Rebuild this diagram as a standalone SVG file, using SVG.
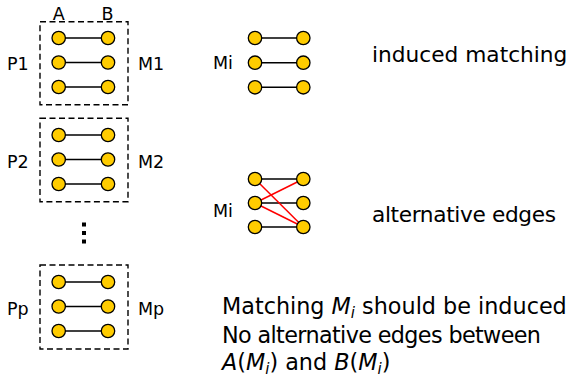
<svg xmlns="http://www.w3.org/2000/svg" width="571" height="383" viewBox="0 0 571 383">
<style>
.box{fill:none;stroke:#000;stroke-width:1.4;stroke-dasharray:6,3.5}
.n{fill:#ffcc00;stroke:#000;stroke-width:1.3}
.e{stroke:#000;stroke-width:1.5}
.r{stroke:#ff0000;stroke-width:1.5}
.lbl{font-family:"DejaVu Sans",sans-serif;font-size:17.5px;fill:#000}
.txt{font-family:"DejaVu Sans",sans-serif;font-size:21.7px;fill:#000}
.txb{font-family:"DejaVu Sans",sans-serif;font-size:22.3px;fill:#000}
.it{font-style:italic}
</style>
<rect width="571" height="383" fill="#fff"/>
<g id="labels">
<text class="lbl" x="58.7" y="20" text-anchor="middle">A</text>
<text class="lbl" x="107.5" y="20" text-anchor="middle">B</text>
<text class="lbl" x="7" y="69.5">P1</text>
<text class="lbl" x="138" y="69.5">M1</text>
<text class="lbl" x="7" y="168">P2</text>
<text class="lbl" x="138" y="168">M2</text>
<text class="lbl" x="7" y="314.5">Pp</text>
<text class="lbl" x="138" y="314.5">Mp</text>
<text class="lbl" x="213" y="69">Mi</text>
<text class="lbl" x="213" y="216.5">Mi</text>
<text class="txt" x="372" y="61.7">induced matching</text>
<text class="txt" x="372" y="221.7" textLength="184" lengthAdjust="spacing">alternative edges</text>
<text class="txb" x="222" y="314">Matching <tspan class="it">M</tspan><tspan class="it" font-size="15" dy="4">i</tspan><tspan dy="-4"> should be induced</tspan></text>
<text class="txb" x="222" y="342.7" textLength="319" lengthAdjust="spacing">No alternative edges between</text>
<text class="txb" x="222" y="370"><tspan class="it">A</tspan>(<tspan class="it">M</tspan><tspan class="it" font-size="15" dy="4">i</tspan><tspan dy="-4">) and </tspan><tspan class="it">B</tspan>(<tspan class="it">M</tspan><tspan class="it" font-size="15" dy="4">i</tspan><tspan dy="-4">)</tspan></text>
</g>
<g id="boxes">
<rect class="box" x="40" y="21.7" width="88" height="83"/>
<rect class="box" x="40" y="118.3" width="88" height="83.4"/>
<rect class="box" x="40" y="265" width="88" height="84"/>
</g>
<g id="vdots" fill="#000">
<rect x="82" y="222.5" width="4" height="4"/>
<rect x="82" y="231" width="4" height="4"/>
<rect x="82" y="239.5" width="4" height="4"/>
</g>
<g id="connectors">
<line class="e" x1="58.7" y1="38" x2="108" y2="38"/>
<line class="e" x1="58.7" y1="62.5" x2="108" y2="62.5"/>
<line class="e" x1="58.7" y1="87" x2="108" y2="87"/>
<line class="e" x1="58.7" y1="135" x2="108" y2="135"/>
<line class="e" x1="58.7" y1="159.5" x2="108" y2="159.5"/>
<line class="e" x1="58.7" y1="184" x2="108" y2="184"/>
<line class="e" x1="58.7" y1="282" x2="108" y2="282"/>
<line class="e" x1="58.7" y1="306.5" x2="108" y2="306.5"/>
<line class="e" x1="58.7" y1="331" x2="108" y2="331"/>
<line class="e" x1="255" y1="38" x2="303.3" y2="38"/>
<line class="e" x1="255" y1="62.7" x2="303.3" y2="62.7"/>
<line class="e" x1="255" y1="87.3" x2="303.3" y2="87.3"/>
<line class="e" x1="255" y1="179" x2="303.3" y2="179"/>
<line class="e" x1="255" y1="203" x2="303.3" y2="203" stroke-width="2"/>
<line class="e" x1="255" y1="227" x2="303.3" y2="227"/>
<line class="r" x1="255" y1="179" x2="303.3" y2="227"/>
<line class="r" x1="255" y1="203" x2="303.3" y2="179"/>
<line class="r" x1="255" y1="203" x2="303.3" y2="227"/>
</g>
<g id="P1">
<circle class="n" cx="58.7" cy="38" r="6.7"/><circle class="n" cx="108" cy="38" r="6.7"/>
<circle class="n" cx="58.7" cy="62.5" r="6.7"/><circle class="n" cx="108" cy="62.5" r="6.7"/>
<circle class="n" cx="58.7" cy="87" r="6.7"/><circle class="n" cx="108" cy="87" r="6.7"/>
</g>
<g id="P2">
<circle class="n" cx="58.7" cy="135" r="6.7"/><circle class="n" cx="108" cy="135" r="6.7"/>
<circle class="n" cx="58.7" cy="159.5" r="6.7"/><circle class="n" cx="108" cy="159.5" r="6.7"/>
<circle class="n" cx="58.7" cy="184" r="6.7"/><circle class="n" cx="108" cy="184" r="6.7"/>
</g>
<g id="Pp">
<circle class="n" cx="58.7" cy="282" r="6.7"/><circle class="n" cx="108" cy="282" r="6.7"/>
<circle class="n" cx="58.7" cy="306.5" r="6.7"/><circle class="n" cx="108" cy="306.5" r="6.7"/>
<circle class="n" cx="58.7" cy="331" r="6.7"/><circle class="n" cx="108" cy="331" r="6.7"/>
</g>
<g id="Mi-induced">
<circle class="n" cx="255" cy="38" r="6.7"/><circle class="n" cx="303.3" cy="38" r="6.7"/>
<circle class="n" cx="255" cy="62.7" r="6.7"/><circle class="n" cx="303.3" cy="62.7" r="6.7"/>
<circle class="n" cx="255" cy="87.3" r="6.7"/><circle class="n" cx="303.3" cy="87.3" r="6.7"/>
</g>
<g id="Mi-alternative">
<circle class="n" cx="255" cy="179" r="6.7"/><circle class="n" cx="303.3" cy="179" r="6.7"/>
<circle class="n" cx="255" cy="203" r="6.7"/><circle class="n" cx="303.3" cy="203" r="6.7"/>
<circle class="n" cx="255" cy="227" r="6.7"/><circle class="n" cx="303.3" cy="227" r="6.7"/>
</g>
</svg>
